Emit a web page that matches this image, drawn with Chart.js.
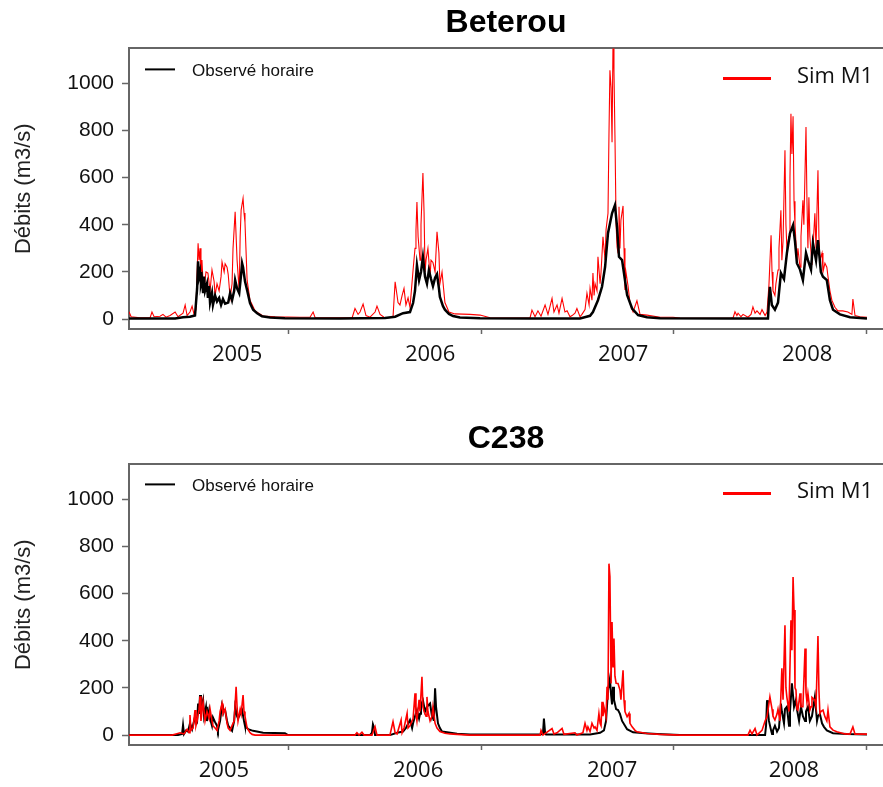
<!DOCTYPE html>
<html>
<head>
<meta charset="utf-8">
<script src="https://cdn.jsdelivr.net/npm/chart.js@4.4.1/dist/chart.umd.min.js"></script>
<style>
body{margin:0;background:#fff;width:883px;height:787px;overflow:hidden;position:relative}
canvas{position:absolute;left:0}
#top{top:0}
#bottom{top:390px}
</style>
</head>
<body>
<canvas id="top" width="883" height="390"></canvas>
<canvas id="bottom" width="883" height="397"></canvas>
<script>
// stations et séries
const stations = ['Beterou', 'C238'];
const obsLabel = 'Observé horaire';
const simLabel = 'Sim M1';
const yTitle = 'Débits (m3/s)';
const yTicks = [0, 200, 400, 600, 800, 1000];
const yearTicks = [2006, 2007, 2008, 2009];
const yearLabels = ['2005', '2006', '2007', '2008'];
const yearLabelAtTop = [2005.736, 2006.736, 2007.736, 2008.690];
const yearLabelAtBottom = [2005.668, 2006.674, 2007.679, 2008.622];

// Beterou - observé (temps en années décimales, débit m3/s)
const betObsT = [2005.176,2005.415,2005.456,2005.492,2005.518,2005.529,2005.534,2005.539,2005.544,2005.549,2005.554,2005.560,2005.565,2005.570,2005.580,2005.585,2005.591,2005.596,2005.606,2005.611,2005.622,2005.632,2005.643,2005.653,2005.663,2005.674,2005.690,2005.700,2005.710,2005.721,2005.726,2005.736,2005.747,2005.757,2005.762,2005.767,2005.777,2005.788,2005.803,2005.819,2005.840,2005.865,2005.907,2005.984,2006.269,2006.503,2006.555,2006.596,2006.632,2006.648,2006.658,2006.668,2006.679,2006.689,2006.699,2006.710,2006.720,2006.730,2006.741,2006.751,2006.762,2006.772,2006.782,2006.787,2006.803,2006.813,2006.834,2006.855,2006.891,2006.995,2007.254,2007.513,2007.565,2007.580,2007.606,2007.627,2007.643,2007.658,2007.679,2007.694,2007.705,2007.715,2007.731,2007.736,2007.757,2007.783,2007.814,2007.860,2007.928,2008.290,2008.487,2008.492,2008.497,2008.507,2008.523,2008.539,2008.554,2008.570,2008.585,2008.601,2008.617,2008.627,2008.637,2008.653,2008.668,2008.684,2008.694,2008.710,2008.720,2008.736,2008.746,2008.761,2008.772,2008.792,2008.808,2008.824,2008.860,2008.912,2009.000];
const betObsV = [3,3,8,10,15,130,245,180,200,150,170,110,180,120,150,90,140,70,110,60,100,75,90,60,85,65,70,110,80,120,165,130,110,190,237,220,160,123,68,40,25,12,7,4,3,5,10,25,30,68,120,229,165,200,264,180,150,207,170,140,175,190,130,94,55,40,22,13,7,4,3,3,14,30,80,137,222,364,449,483,390,264,250,222,102,45,17,8,4,3,3,80,137,60,40,70,195,170,280,364,398,330,237,210,165,280,250,210,322,250,335,200,180,165,80,40,20,8,3];

// Beterou - simulé M1
const betSimT = [2005.176,2005.187,2005.233,2005.285,2005.295,2005.306,2005.337,2005.352,2005.368,2005.389,2005.415,2005.430,2005.456,2005.467,2005.477,2005.492,2005.503,2005.513,2005.523,2005.529,2005.534,2005.539,2005.544,2005.549,2005.554,2005.560,2005.565,2005.575,2005.585,2005.596,2005.606,2005.617,2005.622,2005.632,2005.643,2005.653,2005.658,2005.669,2005.674,2005.684,2005.690,2005.700,2005.710,2005.715,2005.726,2005.736,2005.747,2005.752,2005.757,2005.767,2005.772,2005.777,2005.782,2005.788,2005.803,2005.829,2005.871,2005.933,2006.062,2006.114,2006.130,2006.140,2006.269,2006.332,2006.347,2006.363,2006.373,2006.389,2006.404,2006.425,2006.451,2006.461,2006.477,2006.503,2006.544,2006.555,2006.565,2006.570,2006.580,2006.591,2006.601,2006.611,2006.622,2006.632,2006.648,2006.658,2006.663,2006.668,2006.674,2006.684,2006.689,2006.699,2006.705,2006.710,2006.715,2006.725,2006.736,2006.741,2006.751,2006.762,2006.772,2006.782,2006.787,2006.798,2006.813,2006.834,2006.865,2006.943,2006.995,2007.047,2007.150,2007.254,2007.264,2007.280,2007.295,2007.311,2007.332,2007.347,2007.368,2007.378,2007.394,2007.404,2007.420,2007.435,2007.446,2007.461,2007.472,2007.487,2007.497,2007.513,2007.523,2007.539,2007.549,2007.560,2007.565,2007.575,2007.580,2007.586,2007.591,2007.601,2007.606,2007.617,2007.622,2007.632,2007.643,2007.648,2007.658,2007.663,2007.668,2007.674,2007.679,2007.684,2007.689,2007.694,2007.700,2007.705,2007.710,2007.715,2007.720,2007.725,2007.736,2007.741,2007.746,2007.751,2007.762,2007.772,2007.783,2007.788,2007.808,2007.824,2007.860,2007.928,2007.995,2008.031,2008.290,2008.306,2008.316,2008.326,2008.332,2008.347,2008.358,2008.383,2008.399,2008.409,2008.420,2008.430,2008.446,2008.456,2008.472,2008.482,2008.492,2008.503,2008.508,2008.513,2008.523,2008.528,2008.539,2008.544,2008.554,2008.559,2008.565,2008.575,2008.580,2008.585,2008.596,2008.601,2008.606,2008.611,2008.617,2008.622,2008.627,2008.637,2008.642,2008.653,2008.658,2008.668,2008.673,2008.684,2008.689,2008.694,2008.699,2008.704,2008.715,2008.720,2008.730,2008.736,2008.746,2008.751,2008.756,2008.767,2008.772,2008.782,2008.792,2008.798,2008.808,2008.818,2008.834,2008.849,2008.875,2008.901,2008.912,2008.922,2008.927,2008.938,2008.963,2009.000];
const betSimV = [31,10,5,5,30,10,12,20,8,15,30,10,25,60,15,30,55,20,40,200,322,250,300,180,250,150,130,200,195,120,208,160,100,150,120,180,242,200,235,220,190,90,150,300,455,250,120,350,462,512,450,410,300,165,80,35,13,10,8,8,30,7,5,5,45,20,30,64,15,8,30,55,20,5,8,158,100,70,60,100,130,60,90,50,208,300,377,497,350,250,400,620,450,200,250,300,180,250,240,200,370,280,150,200,70,30,22,20,17,6,4,5,38,10,35,12,60,20,88,30,60,25,88,30,35,10,15,25,45,10,20,40,110,60,131,80,195,100,150,120,264,150,200,349,250,380,449,780,1055,980,750,1180,1050,780,400,306,280,476,300,420,480,300,123,200,140,68,40,30,78,20,17,8,8,4,3,5,31,15,25,10,20,8,20,52,25,35,20,40,15,30,144,356,200,120,100,150,208,300,462,250,330,716,400,300,350,600,871,700,860,500,400,250,300,220,350,504,400,815,500,300,517,350,230,300,449,300,631,350,250,280,200,237,220,180,120,80,50,35,35,30,25,20,85,15,10,8];

// C238 - observé
const c238ObsT = [2005.176,2005.430,2005.451,2005.456,2005.461,2005.472,2005.482,2005.492,2005.503,2005.513,2005.518,2005.529,2005.534,2005.539,2005.544,2005.549,2005.554,2005.560,2005.565,2005.575,2005.580,2005.591,2005.596,2005.606,2005.611,2005.622,2005.632,2005.637,2005.648,2005.658,2005.663,2005.674,2005.684,2005.690,2005.700,2005.710,2005.721,2005.726,2005.736,2005.741,2005.752,2005.762,2005.772,2005.777,2005.793,2005.819,2005.871,2005.984,2006.000,2006.425,2006.435,2006.440,2006.446,2006.451,2006.528,2006.565,2006.596,2006.611,2006.632,2006.643,2006.648,2006.658,2006.668,2006.679,2006.684,2006.689,2006.699,2006.710,2006.720,2006.736,2006.746,2006.751,2006.756,2006.762,2006.767,2006.777,2006.787,2006.798,2006.824,2006.876,2006.943,2007.306,2007.321,2007.326,2007.332,2007.337,2007.565,2007.617,2007.637,2007.648,2007.658,2007.668,2007.674,2007.679,2007.684,2007.689,2007.700,2007.710,2007.720,2007.731,2007.746,2007.757,2007.788,2007.850,2007.912,2008.031,2008.472,2008.477,2008.482,2008.487,2008.492,2008.503,2008.508,2008.513,2008.523,2008.534,2008.544,2008.554,2008.559,2008.570,2008.575,2008.585,2008.596,2008.601,2008.611,2008.622,2008.632,2008.637,2008.648,2008.658,2008.668,2008.679,2008.684,2008.694,2008.704,2008.715,2008.730,2008.741,2008.746,2008.756,2008.767,2008.777,2008.792,2008.824,2008.896,2009.000];
const c238ObsV = [0,0,5,42,5,20,15,50,25,60,78,60,134,90,170,100,130,150,80,120,60,106,70,40,75,55,40,21,60,127,110,106,60,40,30,18,60,120,80,70,90,106,60,40,25,18,10,8,0,0,10,45,30,0,0,10,15,30,64,30,50,80,106,70,90,130,148,100,120,134,80,100,60,198,120,50,30,15,12,6,3,3,5,70,10,3,3,10,20,60,190,240,170,130,205,150,110,106,90,60,40,25,12,8,5,0,0,40,148,100,60,20,5,20,40,15,30,134,100,50,110,120,40,100,220,120,150,110,60,120,80,60,100,120,60,80,162,60,80,90,50,35,20,8,5,3];

// C238 - simulé M1
const c238SimT = [2005.176,2005.399,2005.420,2005.441,2005.461,2005.477,2005.487,2005.492,2005.497,2005.508,2005.518,2005.523,2005.529,2005.539,2005.544,2005.549,2005.554,2005.560,2005.570,2005.580,2005.591,2005.596,2005.606,2005.611,2005.622,2005.632,2005.643,2005.648,2005.658,2005.663,2005.674,2005.684,2005.690,2005.700,2005.710,2005.721,2005.731,2005.736,2005.741,2005.752,2005.757,2005.767,2005.772,2005.777,2005.788,2005.803,2005.814,2005.829,2006.347,2006.357,2006.368,2006.383,2006.394,2006.435,2006.451,2006.461,2006.528,2006.544,2006.555,2006.565,2006.586,2006.591,2006.601,2006.617,2006.622,2006.632,2006.648,2006.658,2006.663,2006.668,2006.679,2006.684,2006.694,2006.699,2006.705,2006.715,2006.720,2006.725,2006.736,2006.746,2006.751,2006.762,2006.772,2006.787,2006.813,2006.839,2006.876,2006.943,2007.306,2007.311,2007.321,2007.368,2007.378,2007.394,2007.420,2007.430,2007.487,2007.497,2007.528,2007.539,2007.549,2007.554,2007.565,2007.575,2007.586,2007.591,2007.601,2007.611,2007.617,2007.622,2007.627,2007.632,2007.637,2007.648,2007.653,2007.658,2007.663,2007.668,2007.674,2007.679,2007.684,2007.689,2007.694,2007.700,2007.710,2007.720,2007.725,2007.736,2007.741,2007.746,2007.757,2007.767,2007.772,2007.783,2007.798,2007.808,2007.860,2007.928,2008.031,2008.383,2008.394,2008.404,2008.420,2008.430,2008.456,2008.472,2008.482,2008.497,2008.508,2008.513,2008.523,2008.534,2008.539,2008.549,2008.559,2008.565,2008.575,2008.580,2008.585,2008.596,2008.606,2008.611,2008.617,2008.622,2008.627,2008.632,2008.637,2008.642,2008.653,2008.658,2008.668,2008.679,2008.684,2008.689,2008.694,2008.704,2008.710,2008.715,2008.730,2008.736,2008.746,2008.751,2008.756,2008.761,2008.772,2008.782,2008.792,2008.798,2008.808,2008.824,2008.844,2008.886,2008.912,2008.927,2008.938,2009.000];
const c238SimV = [0,0,5,10,5,25,10,85,20,30,106,40,60,110,165,60,100,140,60,100,70,110,60,40,30,20,60,100,134,90,110,50,30,20,40,60,205,120,60,110,90,170,100,80,30,10,3,0,0,10,0,12,0,0,35,0,0,57,10,5,64,10,30,92,30,40,70,177,90,60,150,100,247,120,100,80,162,100,60,80,120,50,30,15,8,5,3,0,0,20,0,28,5,10,28,3,10,0,10,50,20,35,15,50,30,35,20,92,50,40,141,80,120,78,205,150,727,671,219,480,290,410,250,220,219,191,150,275,148,100,78,92,50,35,20,14,7,3,0,0,20,5,28,0,20,60,78,162,110,80,64,90,110,60,283,150,466,200,160,100,487,360,670,530,200,191,110,106,177,120,120,367,180,140,177,106,120,160,148,120,420,191,92,100,106,78,60,106,35,21,14,5,4,35,4,4];

const toPoints = (t, v) => t.map((x, i) => ({x: x, y: v[i]}));

const sansFont = '"Liberation Sans", Arial, sans-serif';

// légende placée à la main dans la zone du graphe
const seriesKey = {
    id: 'seriesKey',
    afterDraw(chart, args, o) {
        const ctx = chart.ctx;
        const a = chart.chartArea;
        ctx.save();
        ctx.textBaseline = 'middle';
        ctx.textAlign = 'left';
        o.items.forEach(it => {
            const ds = chart.data.datasets.find(d => d.label === it.label);
            ctx.strokeStyle = ds.borderColor;
            ctx.lineWidth = it.lw;
            ctx.beginPath();
            ctx.moveTo(a.left + it.x1, a.top + it.ly);
            ctx.lineTo(a.left + it.x2, a.top + it.ly);
            ctx.stroke();
            ctx.fillStyle = '#111';
            ctx.font = it.font;
            ctx.fillText(it.label, a.left + it.tx, a.top + it.ty);
        });
        ctx.restore();
    }
};

function makeChart(id, title, obs, sim, opt) {
    const labelAt = opt.labelAt;
    const obsSet = {label: obsLabel, data: obs, borderColor: '#000000', borderWidth: opt.obsWidth, order: opt.obsOrder};
    const simSet = {label: simLabel, data: sim, borderColor: '#ff0000', borderWidth: opt.simWidth, order: opt.simOrder};
    [obsSet, simSet].forEach(d => { d.pointRadius = 0; d.tension = 0; d.fill = false; });

    return new Chart(document.getElementById(id), {
        type: 'line',
        data: {datasets: [obsSet, simSet]},
        plugins: [seriesKey],
        options: {
            responsive: false,
            animation: false,
            devicePixelRatio: 1,
            parsing: false,
            normalized: true,
            layout: {padding: 0},
            plugins: {
                legend: {display: false},
                tooltip: {enabled: false},
                title: {
                    display: true,
                    text: title,
                    fullSize: false,
                    color: '#000',
                    font: {family: sansFont, size: 32, weight: 'bold'},
                    padding: opt.titlePad
                },
                seriesKey: {items: opt.keys}
            },
            scales: {
                x: {
                    type: 'linear',
                    min: 2005.176,
                    max: 2009.083,
                    afterBuildTicks: s => { s.ticks = yearTicks.concat(labelAt).map(v => ({value: v})); },
                    afterFit: s => { s.height = opt.xHeight; },
                    grid: {
                        drawOnChartArea: false,
                        drawTicks: true,
                        tickLength: 5,
                        tickWidth: 1.5,
                        tickColor: c => (c.tick && labelAt.indexOf(c.tick.value) >= 0) ? 'rgba(0,0,0,0)' : '#666'
                    },
                    border: {color: '#666', width: 2},
                    ticks: {
                        autoSkip: false,
                        maxRotation: 0,
                        padding: opt.xPad,
                        color: '#111',
                        font: {family: '"Open Sans", sans-serif', size: 22},
                        callback: v => { const i = labelAt.indexOf(v); return i >= 0 ? yearLabels[i] : ''; }
                    }
                },
                xTop: {
                    type: 'linear',
                    position: 'top',
                    grid: {display: false},
                    ticks: {display: false},
                    border: {color: '#666', width: 2},
                    afterFit: s => { s.height = 0; }
                },
                y: {
                    min: -42,
                    max: 1148,
                    afterBuildTicks: s => { s.ticks = yTicks.map(v => ({value: v})); },
                    afterFit: s => { s.width = 129; },
                    grid: {drawOnChartArea: false, drawTicks: true, tickLength: 7, tickWidth: 1.5, tickColor: '#666'},
                    border: {color: '#666', width: 2},
                    ticks: {
                        padding: 8,
                        color: '#111',
                        font: {family: sansFont, size: 21},
                        callback: v => String(v)
                    },
                    title: {
                        display: true,
                        text: yTitle,
                        color: '#222',
                        font: {family: sansFont, size: 22},
                        padding: {top: 11, bottom: 0}
                    }
                }
            }
        }
    });
}

const keyFontSmall = '17px ' + sansFont;
const keyFontBig = '22px "Open Sans", sans-serif';

makeChart('top', stations[0], toPoints(betObsT, betObsV), toPoints(betSimT, betSimV), {
    labelAt: yearLabelAtTop, xHeight: 61, xPad: 8,
    titlePad: {top: 4, bottom: 6},
    obsWidth: 2.5, simWidth: 1.1, obsOrder: 0, simOrder: 1,
    keys: [
        {label: obsLabel, x1: 16, x2: 46, ly: 21, tx: 63, ty: 23, lw: 2, font: keyFontSmall},
        {label: simLabel, x1: 594, x2: 642, ly: 30, tx: 668, ty: 28, lw: 3, font: keyFontBig}
    ]
});

makeChart('bottom', stations[1], toPoints(c238ObsT, c238ObsV), toPoints(c238SimT, c238SimV), {
    labelAt: yearLabelAtBottom, xHeight: 42, xPad: 8,
    titlePad: {top: 30, bottom: 6},
    obsWidth: 2, simWidth: 1.6, obsOrder: 1, simOrder: 0,
    keys: [
        {label: obsLabel, x1: 16, x2: 46, ly: 20, tx: 63, ty: 22, lw: 2, font: keyFontSmall},
        {label: simLabel, x1: 594, x2: 642, ly: 29, tx: 668, ty: 27, lw: 3, font: keyFontBig}
    ]
});
</script>
</body>
</html>
